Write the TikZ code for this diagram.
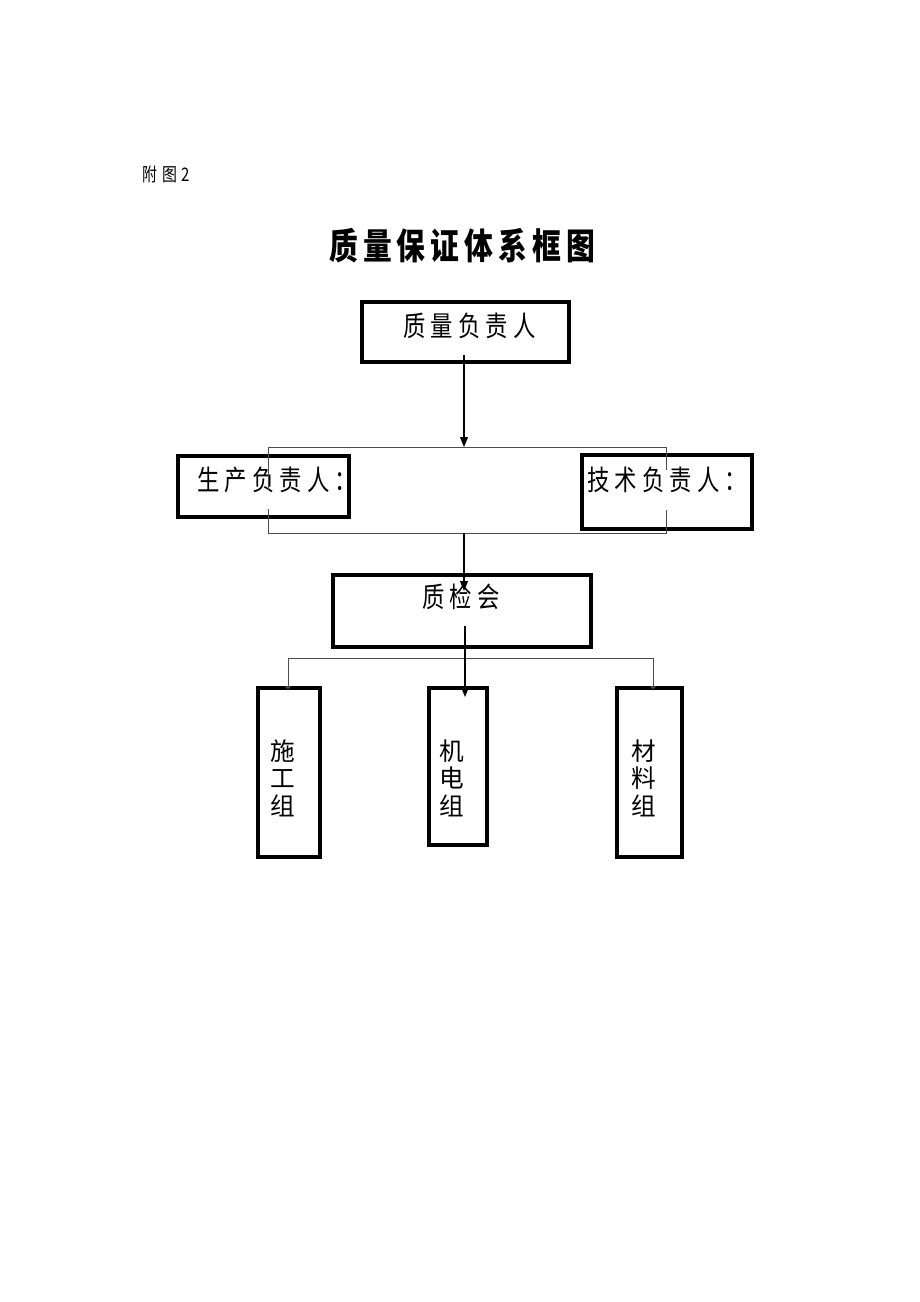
\documentclass[tikz,border=0pt]{standalone}
\usepackage{fontspec}
\newfontfamily\cjknarrow[FakeStretch=0.8,LetterSpace=18]{Noto Sans CJK SC}
\newfontfamily\cjktitle[FakeStretch=0.8,LetterSpace=14]{Noto Sans CJK SC}
\newfontfamily\cjknote[FakeStretch=0.8,LetterSpace=26]{Noto Sans CJK SC}
\newfontfamily\cjkplain{Noto Sans CJK SC}
\usetikzlibrary{arrows.meta}

\tikzset{
  frame/.style={draw,line width=2.3pt,inner sep=0pt},
  wire/.style={draw=black!70,line width=0.7pt},
  feed/.style={draw,line width=0.8pt,-{Triangle[length=7.5pt,width=6pt]}},
  tap/.style={draw=black!70,line width=0.7pt,-{Triangle[length=2pt,width=5pt]}},
  lbl/.style={inner sep=0pt,anchor=west,font=\cjknarrow\fontsize{21pt}{21pt}\selectfont},
  grp/.style={inner sep=0pt,align=center,font=\cjkplain\fontsize{18.5pt}{20.6pt}\selectfont}
}

\begin{document}
\begin{tikzpicture}[x=0.75pt,y=0.75pt,yscale=-1,xscale=1]
\useasboundingbox (0,0) rectangle (920,1302);

% Text Node
\node [inner sep=0pt,anchor=west,font=\cjknote\fontsize{14pt}{14pt}\selectfont] (fig) at (142,174) {附图2};
% Text Node
\node [inner sep=0pt,anchor=west,font=\cjktitle\bfseries\fontsize{27pt}{27pt}\selectfont] (title) at (329,246) {质量保证体系框图};

%Shape: boxes
\node [frame,minimum width=155.25pt,minimum height=45pt] (fzr) at (465.5,332) {};
\node [frame,minimum width=128.25pt,minimum height=45.75pt] (sczr) at (263.5,486.5) {};
\node [frame,minimum width=127.5pt,minimum height=55.5pt] (jszr) at (667,492) {};
\node [frame,minimum width=193.5pt,minimum height=54pt] (zjh) at (462,611) {};
\node [frame,minimum width=46.5pt,minimum height=126.75pt] (sgz) at (289,772.5) {};
\node [frame,minimum width=43.5pt,minimum height=117.75pt] (jdz) at (458,766.5) {};
\node [frame,minimum width=48.75pt,minimum height=126.75pt] (clz) at (649.5,772.5) {};

% Text Node
\node [lbl] (fzrtxt) at (403,325.5) {质量负责人};
\node [lbl] (scztxt) at (197,480) {生产负责人：};
\node [lbl] (jsztxt) at (587,480) {技术负责人：};
\node [lbl] (zjhtxt) at (422,597) {质检会};
\node [grp] (sgztxt) at (283,778) {施\\工\\组};
\node [grp] (jdztxt) at (452,778) {机\\电\\组};
\node [grp] (clztxt) at (644,778) {材\\料\\组};

% coordinates of the wiring
\coordinate (fzrout) at (464,355);
\coordinate (bustop) at (464,447);
\coordinate (tl) at (268,447);
\coordinate (tr) at (666,447);
\coordinate (tlend) at (268,490);
\coordinate (trend) at (666,470);
\coordinate (bl) at (268,533);
\coordinate (br) at (666,533);
\coordinate (blend) at (268,509);
\coordinate (brend) at (666,510);
\coordinate (busbot) at (464,533);
\coordinate (zjhin) at (464,591);
\coordinate (zjhout) at (465,626);
\coordinate (jdzin) at (465,697);
\coordinate (grpl) at (288,658);
\coordinate (grpr) at (653,658);
\coordinate (sgzin) at (288,689);
\coordinate (clzin) at (653,689);

%Straight Lines
\draw [wire] (tlend) -- (tl) -- (tr) -- (trend);
\draw [wire] (blend) -- (bl) -- (br) -- (brend);
\draw [wire] (grpl) -- (grpr);
\draw [tap] (grpl) -- (sgzin);
\draw [tap] (grpr) -- (clzin);
%Arrows
\draw [feed] (fzrout) -- (bustop);
\draw [feed] (busbot) -- (zjhin);
\draw [feed] (zjhout) -- (jdzin);

\end{tikzpicture}
\end{document}
